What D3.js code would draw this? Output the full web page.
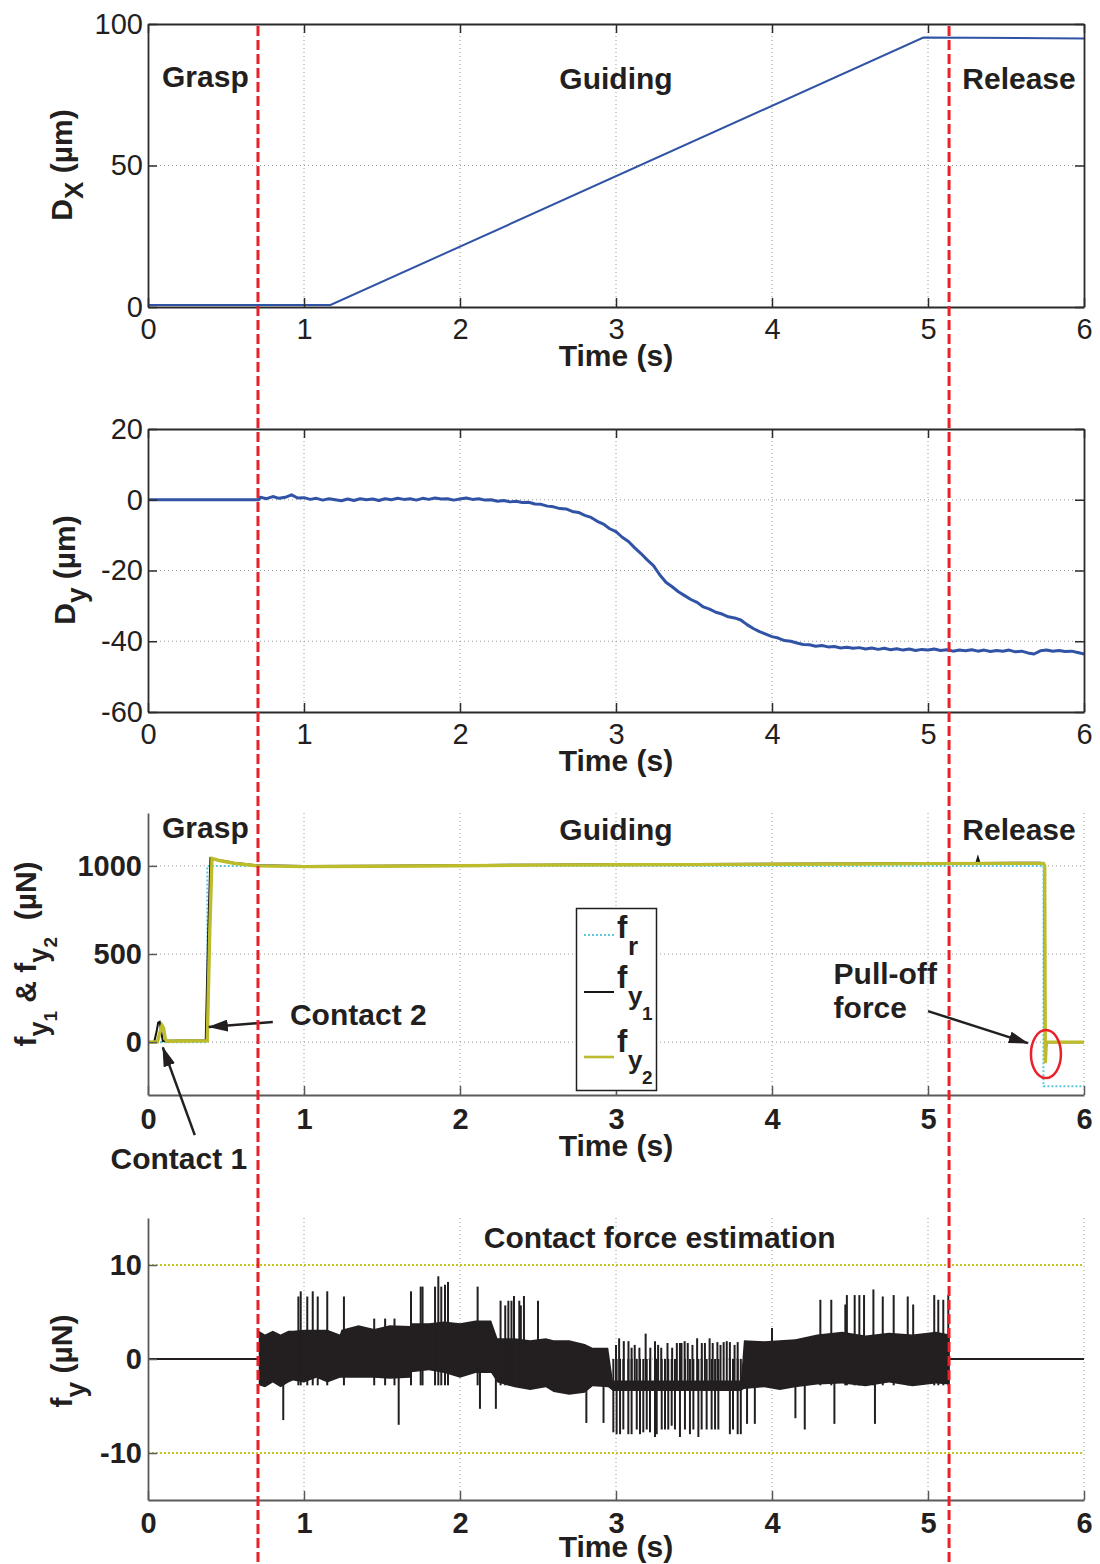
<!DOCTYPE html>
<html><head><meta charset="utf-8">
<script src="https://cdn.jsdelivr.net/npm/d3@7"></script>
<style>
body{margin:0;background:#fff;}
text{font-family:"Liberation Sans",Arial,Helvetica,sans-serif;fill:#231f20;}
</style></head><body>
<svg id="fig" width="1100" height="1564"></svg>
<script>
// ---------------- DATA ----------------
const timeTicks = [0,1,2,3,4,5,6];
const phaseTimes = [0.705, 5.135];           // red dashed phase boundaries (s)
const phaseLabels = ["Grasp","Guiding","Release"];

// Panel 1: D_X (µm)
const dxSeries = [[0,0.7],[1.17,0.7],[4.97,95.2],[6.0,94.9]];
const dxTicks = [0,50,100];

// Panel 2: D_y (µm)
const dySeries = [[0,0],[0.71,0],[0.72,0.7],[0.76,0.3],[0.80,0.9],[0.84,0.4],[0.88,0.7],[0.92,1.4],[0.96,0.5],[1.00,0.6],
[1.04,0.1],[1.08,0.4],[1.12,-0.1],[1.16,0.3],[1.20,0.0],[1.24,-0.3],[1.28,0.2],[1.32,-0.2],[1.36,0.3],[1.40,0.0],
[1.44,0.2],[1.48,-0.2],[1.52,0.3],[1.56,0.0],[1.60,0.4],[1.64,0.1],[1.68,0.3],[1.72,-0.1],[1.76,0.4],[1.80,0.1],
[1.84,0.5],[1.88,0.2],[1.92,0.3],[1.96,-0.1],[2.00,0.2],[2.04,0.5],[2.08,0.1],[2.12,0.3],[2.16,-0.1],[2.20,0.0],
[2.24,-0.4],[2.28,-0.2],[2.32,-0.6],[2.36,-0.4],[2.40,-0.8],[2.44,-0.7],[2.48,-1.2],[2.52,-1.3],[2.56,-1.8],[2.60,-2.0],
[2.64,-2.5],[2.68,-2.6],[2.72,-3.3],[2.76,-3.6],[2.80,-4.4],[2.84,-5.0],[2.88,-6.1],[2.92,-6.9],[2.96,-8.2],[3.00,-9.0],
[3.04,-10.6],[3.08,-11.8],[3.12,-13.6],[3.16,-15.2],[3.20,-17.0],[3.24,-18.6],[3.28,-21.2],[3.32,-23.3],[3.36,-24.6],[3.40,-26.0],
[3.44,-27.1],[3.48,-28.2],[3.52,-29.0],[3.56,-30.3],[3.60,-30.9],[3.64,-31.8],[3.68,-32.3],[3.72,-33.1],[3.76,-33.4],[3.80,-34.0],
[3.84,-35.3],[3.88,-36.4],[3.92,-37.3],[3.96,-38.0],[4.00,-38.7],[4.04,-39.1],[4.08,-39.8],[4.12,-40.0],[4.16,-40.5],[4.20,-40.9],
[4.24,-41.0],[4.28,-41.4],[4.32,-41.2],[4.36,-41.6],[4.40,-41.5],[4.44,-41.9],[4.48,-41.7],[4.52,-42.0],[4.56,-41.8],[4.60,-42.2],
[4.64,-41.9],[4.68,-42.3],[4.72,-42.0],[4.76,-42.4],[4.80,-42.1],[4.84,-42.5],[4.88,-42.2],[4.92,-42.6],[4.96,-42.3],[5.00,-42.5],
[5.04,-42.2],[5.08,-42.6],[5.12,-42.4],[5.16,-42.8],[5.20,-42.5],[5.24,-42.7],[5.28,-42.4],[5.32,-42.8],[5.36,-42.5],[5.40,-42.9],
[5.44,-42.6],[5.48,-42.8],[5.52,-42.5],[5.56,-43.0],[5.60,-42.8],[5.64,-43.3],[5.68,-43.6],[5.72,-42.7],[5.76,-42.5],[5.80,-42.8],
[5.84,-42.6],[5.88,-42.9],[5.92,-42.8],[5.96,-43.2],[6.00,-43.6]];
const dyTicks = [-60,-40,-20,0,20];

// Panel 3: forces (µN)
const frSeries = [[0,0],[0.38,0],[0.38,1000],[5.74,1000],[5.74,-250],[6.0,-250]];
const fy1Series = [[0,0],[0.04,2],[0.055,60],[0.065,110],[0.075,115],[0.085,60],[0.095,5],[0.12,8],[0.37,10],[0.385,600],
[0.40,1044],[0.45,1034],[0.55,1018],[0.70,1003],[1.0,999],[1.5,1001],[2.0,1004],[2.5,1007],[3.0,1009],[3.5,1010],
[4.0,1012],[4.5,1014],[5.0,1016],[5.31,1017],[5.32,1046],[5.33,1017],[5.72,1018],[5.745,1008],[5.75,-100],[5.76,0],[6.0,0]];
const fy2Series = [[0,0],[0.06,2],[0.075,50],[0.09,95],[0.10,80],[0.11,20],[0.12,5],[0.38,8],[0.395,600],[0.41,1042],
[0.45,1032],[0.55,1015],[0.70,1000],[1.0,996],[1.5,998],[2.0,1001],[2.5,1004],[3.0,1006],[3.5,1007],[4.0,1009],
[4.5,1011],[5.0,1013],[5.5,1014],[5.74,1014],[5.748,1000],[5.752,-120],[5.758,0],[6.0,0]];
const fTicks = [0,500,1000];
const legendNames = ["r","y1","y2"];

// Panel 4: contact force estimate f_y (µN)
const fyFlatBefore = [[0,0],[0.71,0]];
const fyFlatAfter = [[5.14,0],[6.0,0]];
const bandT  = [0.71,0.75,0.80,0.85,0.90,0.93,1.00,1.08,1.15,1.23,1.24,1.35,1.45,1.55,1.68,1.69,1.80,1.90,2.00,2.10,2.20,
                2.24,2.35,2.45,2.55,2.60,2.70,2.80,2.85,2.95,2.98,3.80,3.82,3.95,4.05,4.15,4.29,4.45,4.60,4.75,4.90,5.05,5.14];
const bandHi = [3.0,2.6,3.0,2.6,3.0,3.0,3.1,3.1,3.1,2.6,3.1,3.6,3.2,3.6,3.5,3.8,3.8,4.0,3.8,4.1,4.1,
                2.2,2.2,2.0,2.2,2.0,2.0,1.6,1.2,1.2,-2.3,-2.3,2.0,1.9,2.0,2.1,2.6,2.9,2.5,2.8,2.6,2.9,2.6];
const bandLo = [-2.8,-3.0,-2.5,-3.0,-2.5,-2.3,-2.5,-2.0,-2.5,-2.0,-2.0,-2.0,-2.0,-2.1,-2.0,-1.4,-1.2,-1.5,-2.0,-1.5,-1.5,
                -2.5,-3.0,-3.3,-3.0,-3.5,-3.8,-3.6,-2.9,-3.0,-3.4,-3.4,-3.2,-3.0,-3.3,-3.0,-2.7,-2.6,-2.9,-2.5,-2.9,-2.6,-2.7];
const upSpikes = [[0.964,6.65],[0.979,7.2],[1.021,6.65],[1.056,7.2],[1.088,6.65],[1.149,7.2],[1.256,6.65],[1.45,4.3],[1.52,4.3],[1.58,4.3],
[1.686,7.2],[1.748,7.7],[1.760,7.7],[1.840,7.7],[1.861,8.8],[1.880,7.7],[1.904,7.9],[1.923,8.2],[2.113,7.7],[2.26,6.2],
[2.29,5.7],[2.31,6.2],[2.33,6.2],[2.346,6.7],[2.38,6.2],[2.39,5.7],[2.41,6.7],[2.50,6.2],
[3.00,1.5],[3.02,2.2],[3.05,1.9],[3.08,1.9],[3.10,1.2],[3.12,1.5],[3.15,1.2],[3.19,2.7],[3.22,1.2],[3.25,1.9],[3.27,1.5],
[3.29,1.2],[3.33,1.7],[3.36,1.2],[3.39,1.7],[3.41,1.7],[3.42,1.7],[3.44,1.9],[3.46,1.7],[3.49,1.5],[3.52,2.2],[3.55,1.7],
[3.57,1.7],[3.60,2.2],[3.62,1.7],[3.65,1.8],[3.67,1.5],[3.69,1.8],[3.71,1.9],[3.73,1.8],[3.76,1.5],[3.78,1.8],
[4.00,3.3],[4.31,6.3],[4.38,6.3],[4.47,5.8],[4.48,6.8],[4.53,6.8],[4.56,6.8],[4.59,6.8],[4.65,7.4],[4.71,6.65],
[4.78,6.8],[4.87,6.65],[4.905,5.8],[5.04,6.8],[5.066,6.3],[5.098,6.3],[5.13,6.8]];
const downSpikes = [[0.867,-6.5],[1.607,-7.0],[2.128,-5.3],[2.23,-5.3],[2.81,-6.8],[2.92,-6.8],
[2.983,-7.8],[3.004,-8.0],[3.026,-8.0],[3.047,-7.5],[3.079,-8.0],[3.10,-8.0],[3.133,-7.5],[3.154,-8.0],[3.175,-7.8],[3.197,-7.5],
[3.218,-7.8],[3.25,-8.3],[3.261,-8.0],[3.293,-7.5],[3.314,-7.5],[3.335,-7.5],[3.357,-7.1],[3.378,-7.5],[3.41,-8.3],[3.442,-7.5],
[3.474,-8.0],[3.496,-7.5],[3.528,-8.3],[3.549,-7.5],[3.581,-7.5],[3.613,-7.5],[3.635,-7.5],[3.656,-7.5],[3.73,-8.0],[3.75,-7.5],
[3.78,-8.0],[3.80,-8.0],[3.84,-6.9],[3.89,-6.9],[4.15,-6.3],[4.21,-7.5],[4.40,-6.9],[4.66,-6.9]];
const fyLimits = [10,-10];
const fyTicks = [-10,0,10];

// ---------------- DRAWING ----------------
const svg = d3.select("#fig");
const W = 1100, H = 1564;
const x = d3.scaleLinear().domain([0,6]).range([148,1084]);
const TXT = "#231f20";
const BLUE = "#3153a5", RED = "#e8212b", CYAN = "#5cc6dd", YEL = "#bcbc2c";
const fmt = d => String(d);

const panels = [
  {top:24, bottom:307, domain:[0,100], ticks:dxTicks, grid:[50], box:true, bold:false, xpad:11, ypad:5, tl:366},
  {top:429, bottom:712, domain:[-60,20], ticks:dyTicks, grid:[-40,-20,0], box:true, bold:false, xpad:11, ypad:5, tl:771},
  {top:813, bottom:1095, domain:[-300,1300], ticks:fTicks, grid:[0,500,1000], box:false, bold:true, xpad:13, ypad:6, tl:1156},
  {top:1218, bottom:1500, domain:[-15,15], ticks:fyTicks, grid:[-10,0,10], box:false, bold:true, xpad:12, ypad:6, tl:1557}
];
panels.forEach(p => { p.y = d3.scaleLinear().domain(p.domain).range([p.bottom, p.top]); });

function styleAxis(sel, p, showLabels, axisColor){
  sel.select(".domain").attr("stroke", axisColor).attr("stroke-width", 1.8);
  sel.selectAll(".tick line").attr("stroke", axisColor).attr("stroke-width", 1.5);
  sel.selectAll(".tick text")
    .style("font-size","29px")
    .style("font-weight", p.bold ? "bold" : "normal")
    .style("font-family",'"Liberation Sans",Arial,sans-serif')
    .attr("fill", TXT)
    .style("display", showLabels ? null : "none");
}

panels.forEach(p => {
  const g = svg.append("g");
  const vGrid = p.box ? timeTicks.slice(1,-1) : timeTicks.slice(1);
  g.selectAll(null).data(vGrid).join("line")
    .attr("x1", d=>x(d)).attr("x2", d=>x(d)).attr("y1", p.top).attr("y2", p.bottom)
    .attr("stroke","#9a9a9a").attr("stroke-width",1).attr("stroke-dasharray","1,3");
  g.selectAll(null).data(p.grid).join("line")
    .attr("x1", x(0)).attr("x2", x(6)).attr("y1", d=>p.y(d)).attr("y2", d=>p.y(d))
    .attr("stroke","#9a9a9a").attr("stroke-width",1).attr("stroke-dasharray","1,3");
  p.g = g;
});

// ---- Panel 1 data
const line = (ys) => d3.line().x(d=>x(d[0])).y(d=>ys(d[1]));
panels[0].g.append("path").datum(dxSeries).attr("d", line(panels[0].y))
  .attr("fill","none").attr("stroke",BLUE).attr("stroke-width",2);

// ---- Panel 2 data
panels[1].g.append("path").datum(dySeries).attr("d", line(panels[1].y))
  .attr("fill","none").attr("stroke",BLUE).attr("stroke-width",3).attr("stroke-linejoin","round");

// ---- Panel 3 data
const p3 = panels[2];
p3.g.append("path").datum(frSeries).attr("d", line(p3.y))
  .attr("fill","none").attr("stroke",CYAN).attr("stroke-width",2).attr("stroke-dasharray","2,2");
p3.g.append("path").datum(fy1Series).attr("d", line(p3.y))
  .attr("fill","none").attr("stroke","#151515").attr("stroke-width",2);
p3.g.append("path").datum(fy2Series).attr("d", line(p3.y))
  .attr("fill","none").attr("stroke",YEL).attr("stroke-width",3.4);

// ---- Panel 4 data
const p4 = panels[3];
p4.g.selectAll(null).data(fyLimits).join("line")
  .attr("x1", x(0)).attr("x2", x(6)).attr("y1", d=>p4.y(d)).attr("y2", d=>p4.y(d))
  .attr("stroke","#c9c41c").attr("stroke-width",1.8).attr("stroke-dasharray","2,2");
[fyFlatBefore, fyFlatAfter].forEach(s => p4.g.append("path").datum(s).attr("d", line(p4.y))
  .attr("fill","none").attr("stroke","#231f20").attr("stroke-width",2));
const bandData = bandT.map((t,i)=>({t, hi:bandHi[i], lo:bandLo[i]}));
p4.g.append("path").datum(bandData)
  .attr("d", d3.area().x(d=>x(d.t)).y0(d=>p4.y(d.lo)).y1(d=>p4.y(d.hi)))
  .attr("fill","#231f20");
p4.g.selectAll(null).data(upSpikes).join("line")
  .attr("x1", d=>x(d[0])).attr("x2", d=>x(d[0])).attr("y1", p4.y(-2.8)).attr("y2", d=>p4.y(d[1]))
  .attr("stroke","#231f20").attr("stroke-width",2);
p4.g.selectAll(null).data(downSpikes).join("line")
  .attr("x1", d=>x(d[0])).attr("x2", d=>x(d[0])).attr("y1", p4.y(0)).attr("y2", d=>p4.y(d[1]))
  .attr("stroke","#231f20").attr("stroke-width",2);

// ---- Axes
panels.forEach(p => {
  const axisColor = p.box ? "#2b2b2b" : "#5a5a5a";
  const gb = svg.append("g").attr("transform",`translate(0,${p.bottom})`)
    .call(d3.axisBottom(x).tickValues(timeTicks).tickSizeInner(-9).tickSizeOuter(0).tickPadding(p.xpad).tickFormat(fmt));
  styleAxis(gb, p, true, axisColor);
  const gl = svg.append("g").attr("transform",`translate(${x(0)},0)`)
    .call(d3.axisLeft(p.y).tickValues(p.ticks).tickSizeInner(-9).tickSizeOuter(0).tickPadding(p.ypad).tickFormat(fmt));
  styleAxis(gl, p, true, axisColor);
  if (p.box) {
    const gt = svg.append("g").attr("transform",`translate(0,${p.top})`)
      .call(d3.axisTop(x).tickValues(timeTicks).tickSizeInner(-9).tickSizeOuter(0));
    styleAxis(gt, p, false, axisColor);
    const gr = svg.append("g").attr("transform",`translate(${x(6)},0)`)
      .call(d3.axisRight(p.y).tickValues(p.ticks).tickSizeInner(-9).tickSizeOuter(0));
    styleAxis(gr, p, false, axisColor);
  }
  svg.append("text").attr("x", x(3)).attr("y", p.tl).attr("text-anchor","middle")
    .style("font-size","30px").style("font-weight","bold").text("Time (s)");
});

// ---- Y labels (rotated, with subscripts)
function ylabel(cx, cy, parts){
  const t = svg.append("text").attr("transform",`translate(${cx},${cy}) rotate(-90)`)
    .attr("text-anchor","middle").style("font-weight","bold").style("font-size","30px");
  parts.forEach(pt => {
    const s = t.append("tspan").text(pt.t);
    if (pt.dy) s.attr("dy", pt.dy);
    if (pt.fs) s.style("font-size", pt.fs + "px");
  });
}
ylabel(72, 165, [{t:"D"},{t:"X",dy:11,fs:26},{t:"\u00a0(µm)",dy:-11}]);
ylabel(75, 570, [{t:"D"},{t:"y",dy:11,fs:28},{t:"\u00a0(µm)",dy:-11}]);
ylabel(36, 954, [{t:"f"},{t:"y",dy:12,fs:27},{t:"1",dy:9,fs:19},{t:"\u00a0&\u00a0f",dy:-21},{t:"y",dy:12,fs:27},{t:"2",dy:9,fs:19},{t:"\u00a0\u00a0(µN)",dy:-21}]);
ylabel(72, 1361, [{t:"f"},{t:"y",dy:13,fs:28},{t:"\u00a0(µN)",dy:-13}]);

// ---- Phase labels
function label(txt, px, py, anchor){
  svg.append("text").attr("x",px).attr("y",py).attr("text-anchor",anchor||"start")
    .style("font-weight","bold").style("font-size","30px").text(txt);
}
[panels[0], panels[2]].forEach((p,i) => {
  const base = i===0 ? 87 : 838;
  label(phaseLabels[0], x(0.09), base);
  label(phaseLabels[1], x(3.0), base + 2, "middle");
  label(phaseLabels[2], x(5.22), base + 2);
});
label("Contact force estimation", x(3.28), 1248, "middle");

// ---- Panel 3 annotations
const defs = svg.append("defs");
defs.append("marker").attr("id","ah").attr("viewBox","0 0 20 12").attr("refX",19).attr("refY",6)
  .attr("markerWidth",20).attr("markerHeight",12).attr("markerUnits","userSpaceOnUse").attr("orient","auto")
  .append("path").attr("d","M0,0 L20,6 L0,12 Z").attr("fill","#231f20");
const arrows = [
  {from:[0.80,114], to:[0.39,86]},
  {from:[0.30,-528], to:[0.095,-30]},
  {from:[5.0,176], to:[5.64,-6]}
];
arrows.forEach(a => {
  svg.append("line").attr("x1",x(a.from[0])).attr("y1",p3.y(a.from[1]))
    .attr("x2",x(a.to[0])).attr("y2",p3.y(a.to[1]))
    .attr("stroke","#231f20").attr("stroke-width",2.5).attr("marker-end","url(#ah)");
});
label("Contact 2", x(0.91), 1025);
label("Contact 1", x(-0.24), 1169);
label("Pull-off", x(4.395), 984);
label("force", x(4.395), 1018);
svg.append("ellipse").attr("cx", x(5.756)).attr("cy", p3.y(-68)).attr("rx",15).attr("ry",24)
  .attr("fill","none").attr("stroke","#e8212b").attr("stroke-width",2.5);

// ---- Legend
const lg = svg.append("g");
lg.append("rect").attr("x",576.5).attr("y",908.5).attr("width",80).attr("height",182)
  .attr("fill","#fff").attr("stroke","#231f20").attr("stroke-width",1.5);
const legendStyles = [
  {c:CYAN, w:2, dash:"2,2", ly:935, fb:938},
  {c:"#151515", w:2, dash:null, ly:992, fb:988},
  {c:YEL, w:2.6, dash:null, ly:1057, fb:1052}
];
legendNames.forEach((nm,i) => {
  const s = legendStyles[i];
  lg.append("line").attr("x1",584).attr("x2",614).attr("y1",s.ly).attr("y2",s.ly)
    .attr("stroke",s.c).attr("stroke-width",s.w).attr("stroke-dasharray",s.dash);
  const t = lg.append("text").attr("x",617).attr("y",s.fb).style("font-weight","bold").style("font-size","31px");
  t.append("tspan").text("f");
  t.append("tspan").attr("x",628).attr("y",s.fb+17).style("font-size","26px").text(nm[0]);
  if (nm.length>1) t.append("tspan").attr("x",642).attr("y",s.fb+32).style("font-size","19px").text(nm[1]);
});

// ---- Red dashed phase boundaries
svg.selectAll(null).data(phaseTimes).join("line")
  .attr("x1", d=>x(d)).attr("x2", d=>x(d)).attr("y1", 26).attr("y2", H)
  .attr("stroke",RED).attr("stroke-width",3).attr("stroke-dasharray","10,4");
</script>
</body></html>
